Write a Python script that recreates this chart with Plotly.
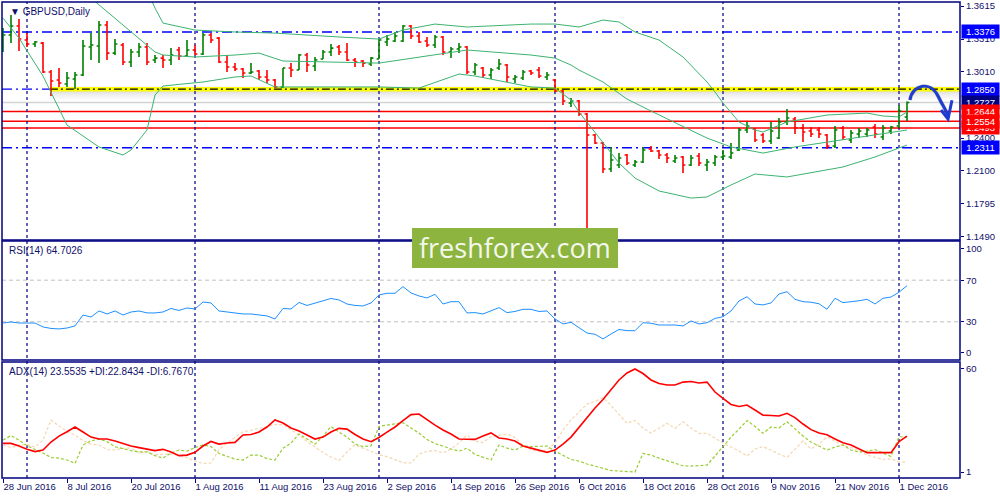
import pandas as pd
import plotly.graph_objects as go

# trading days on the chart: weekdays 28 Jun - 2 Dec 2016
trade_days = pd.bdate_range("2016-06-28", "2016-12-02")
dates = [d.strftime("%Y-%m-%d") for d in trade_days]

opens = [1.3256, 1.3348, 1.3431, 1.3302, 1.3265, 1.3274, 1.3008, 1.2934, 1.2897, 1.2943,
         1.2980, 1.3238, 1.3247, 1.3440, 1.3182, 1.3256, 1.3100, 1.3192, 1.3238, 1.3118,
         1.3136, 1.3118, 1.3210, 1.3155, 1.3210, 1.3173, 1.3348, 1.3320, 1.3100, 1.3054,
         1.3035, 1.2998, 1.3017, 1.2962, 1.2934, 1.2870, 1.3044, 1.3026, 1.3164, 1.3063,
         1.3127, 1.3192, 1.3238, 1.3192, 1.3118, 1.3109, 1.3081, 1.3127, 1.3284, 1.3293,
         1.3293, 1.3431, 1.3339, 1.3293, 1.3256, 1.3330, 1.3192, 1.3219, 1.3238, 1.3008,
         1.3044, 1.2980, 1.3044, 1.3072, 1.2943, 1.2952, 1.3017, 1.3026, 1.2962, 1.2934,
         1.2833, 1.2722, 1.2741, 1.2621, 1.2428, 1.2354, 1.2115, 1.2152, 1.2244, 1.2152,
         1.2180, 1.2299, 1.2281, 1.2244, 1.2189, 1.2226, 1.2152, 1.2235, 1.2152, 1.2170,
         1.2226, 1.2226, 1.2290, 1.2474, 1.2483, 1.2428, 1.2373, 1.2400, 1.2548, 1.2575,
         1.2492, 1.2465, 1.2474, 1.2428, 1.2327, 1.2492, 1.2382, 1.2437, 1.2437, 1.2502,
         1.2410, 1.2465, 1.2511, 1.2594]
highs = [1.3412, 1.3532, 1.3495, 1.3366, 1.3293, 1.3284, 1.3026, 1.3044, 1.3008, 1.3008,
         1.3302, 1.3366, 1.3477, 1.3477, 1.3311, 1.3274, 1.3219, 1.3274, 1.3274, 1.3164,
         1.3164, 1.3228, 1.3238, 1.3302, 1.3256, 1.3366, 1.3366, 1.3330, 1.3164, 1.3090,
         1.3044, 1.3090, 1.3026, 1.3026, 1.2943, 1.3044, 1.3090, 1.3173, 1.3182, 1.3146,
         1.3210, 1.3265, 1.3256, 1.3274, 1.3136, 1.3118, 1.3146, 1.3311, 1.3348, 1.3376,
         1.3440, 1.3440, 1.3376, 1.3330, 1.3348, 1.3339, 1.3238, 1.3274, 1.3247, 1.3090,
         1.3054, 1.3044, 1.3127, 1.3081, 1.2980, 1.3026, 1.3026, 1.3054, 1.3008, 1.2943,
         1.2842, 1.2768, 1.2750, 1.2630, 1.2437, 1.2364, 1.2318, 1.2262, 1.2253, 1.2198,
         1.2318, 1.2327, 1.2290, 1.2262, 1.2244, 1.2235, 1.2244, 1.2262, 1.2207, 1.2244,
         1.2290, 1.2354, 1.2492, 1.2548, 1.2492, 1.2446, 1.2548, 1.2584, 1.2667, 1.2594,
         1.2529, 1.2502, 1.2502, 1.2437, 1.2511, 1.2511, 1.2474, 1.2492, 1.2492, 1.2529,
         1.2520, 1.2511, 1.2704, 1.2736]
lows = [1.3192, 1.3274, 1.3201, 1.3238, 1.3238, 1.2998, 1.2787, 1.2870, 1.2870, 1.2851,
        1.2971, 1.3118, 1.3090, 1.3118, 1.3164, 1.3072, 1.3054, 1.3146, 1.3072, 1.3090,
        1.3044, 1.3072, 1.3118, 1.3146, 1.3164, 1.3164, 1.3274, 1.3090, 1.3008, 1.3017,
        1.2952, 1.2989, 1.2934, 1.2906, 1.2860, 1.2860, 1.2962, 1.3026, 1.3008, 1.3017,
        1.3127, 1.3155, 1.3164, 1.3109, 1.3054, 1.3054, 1.3063, 1.3127, 1.3247, 1.3284,
        1.3284, 1.3311, 1.3274, 1.3238, 1.3228, 1.3164, 1.3136, 1.3182, 1.2989, 1.2980,
        1.2952, 1.2943, 1.3026, 1.2916, 1.2906, 1.2934, 1.2980, 1.2952, 1.2934, 1.2824,
        1.2704, 1.2686, 1.2603, 1.1491, 1.2345, 1.2078, 1.2088, 1.2124, 1.2152, 1.2134,
        1.2170, 1.2272, 1.2207, 1.2170, 1.2170, 1.2078, 1.2143, 1.2143, 1.2097, 1.2143,
        1.2198, 1.2207, 1.2281, 1.2446, 1.2364, 1.2354, 1.2345, 1.2391, 1.2520, 1.2437,
        1.2364, 1.2410, 1.2400, 1.2299, 1.2308, 1.2382, 1.2354, 1.2400, 1.2410, 1.2400,
        1.2382, 1.2437, 1.2492, 1.2557]
closes = [1.3348, 1.3431, 1.3311, 1.3265, 1.3284, 1.3008, 1.2925, 1.2906, 1.2952, 1.2980,
          1.3247, 1.3256, 1.3440, 1.3182, 1.3265, 1.3100, 1.3192, 1.3238, 1.3100, 1.3136,
          1.3118, 1.3164, 1.3155, 1.3210, 1.3173, 1.3348, 1.3302, 1.3100, 1.3054, 1.3035,
          1.2998, 1.3008, 1.2962, 1.2934, 1.2870, 1.3044, 1.3026, 1.3164, 1.3072, 1.3118,
          1.3192, 1.3228, 1.3192, 1.3118, 1.3100, 1.3090, 1.3136, 1.3302, 1.3311, 1.3339,
          1.3431, 1.3339, 1.3284, 1.3256, 1.3330, 1.3192, 1.3219, 1.3238, 1.3008, 1.3072,
          1.2980, 1.3026, 1.3081, 1.2962, 1.2962, 1.3008, 1.2998, 1.2971, 1.2980, 1.2833,
          1.2741, 1.2741, 1.2621, 1.2428, 1.2354, 1.2115, 1.2198, 1.2216, 1.2170, 1.2180,
          1.2290, 1.2281, 1.2244, 1.2216, 1.2216, 1.2152, 1.2216, 1.2170, 1.2180, 1.2226,
          1.2235, 1.2262, 1.2474, 1.2511, 1.2382, 1.2373, 1.2465, 1.2548, 1.2584, 1.2492,
          1.2456, 1.2437, 1.2437, 1.2327, 1.2474, 1.2410, 1.2446, 1.2465, 1.2474, 1.2437,
          1.2492, 1.2502, 1.2649, 1.2727]

# Bollinger bands at some bars (bar number -> price)
bb_upper_bar = [18, 19, 20, 24, 29, 34, 42, 47, 50, 54, 58, 66, 69, 72, 75, 77, 79, 82, 85, 87,
                88, 89, 90, 92, 94, 95, 98, 103, 108, 110, 112, 113]
bb_upper = [1.3762, 1.3596, 1.3458, 1.3394, 1.3376, 1.3366, 1.3330, 1.3311, 1.3394, 1.3449,
            1.3422, 1.3449, 1.3449, 1.3422, 1.3486, 1.3468, 1.3376, 1.3302, 1.3146, 1.2989,
            1.2916, 1.2824, 1.2722, 1.2548, 1.2474, 1.2456, 1.2548, 1.2612, 1.2630, 1.2603,
            1.2594, 1.2640]
bb_mid_bar = [11, 12, 15, 19, 20, 24, 29, 32, 35, 47, 54, 58, 66, 69, 71, 72, 75, 78, 81, 85,
              88, 91, 95, 99, 105, 109, 113]
bb_mid = [1.3688, 1.3624, 1.3440, 1.3192, 1.3164, 1.3146, 1.3164, 1.3182, 1.3109, 1.3090,
          1.3164, 1.3210, 1.3164, 1.3136, 1.3072, 1.3026, 1.2916, 1.2759, 1.2649, 1.2511,
          1.2400, 1.2318, 1.2262, 1.2318, 1.2382, 1.2428, 1.2474]
bb_lower_bar = [0, 2, 5, 8, 10, 12, 15, 16, 18, 19, 20, 25, 29, 31, 34, 47, 52, 55, 57, 59,
                66, 69, 71, 72, 75, 77, 79, 82, 86, 88, 91, 94, 98, 105, 109, 112, 113]
bb_lower = [1.3504, 1.3320, 1.2971, 1.2520, 1.2419, 1.2318, 1.2244, 1.2290, 1.2474, 1.2796,
            1.2879, 1.2916, 1.2962, 1.2971, 1.2870, 1.2870, 1.2860, 1.2934, 1.2989, 1.2971,
            1.2870, 1.2860, 1.2750, 1.2640, 1.2364, 1.2170, 1.2032, 1.1913, 1.1848, 1.1858,
            1.1968, 1.2069, 1.2042, 1.2134, 1.2226, 1.2308, 1.2336]

rsi = [28.8, 29.8, 28.8, 28.8, 28.8, 25.0, 23.6, 23.1, 24.0, 26.0,
       36.5, 34.6, 40.4, 37.5, 40.4, 36.5, 39.4, 40.4, 38.5, 38.5,
       39.4, 42.8, 40.9, 43.3, 42.3, 49.0, 48.1, 40.4, 39.4, 38.5,
       37.5, 37.5, 36.5, 35.6, 32.7, 42.8, 42.3, 48.6, 45.7, 48.1,
       50.5, 52.4, 51.0, 47.1, 45.7, 45.2, 48.1, 55.8, 57.4, 57.4,
       63.8, 57.7, 54.8, 52.9, 56.4, 47.1, 49.3, 49.3, 38.5, 38.8,
       37.5, 40.4, 43.6, 38.8, 39.9, 42.0, 42.0, 39.9, 40.4, 32.7,
       27.9, 29.5, 24.0, 19.2, 18.0, 13.5, 18.3, 22.6, 21.5, 21.4,
       29.1, 28.6, 26.9, 26.9, 26.9, 26.0, 30.8, 27.9, 29.1, 33.2,
       34.9, 40.4, 50.0, 54.1, 47.1, 46.2, 48.1, 56.7, 58.9, 51.6,
       49.3, 48.8, 47.3, 42.0, 52.6, 48.4, 49.0, 50.2, 51.6, 47.1,
       52.6, 53.8, 58.4, 64.7]

adx = [17.4, 17.4, 15.9, 14.0, 12.7, 13.6, 18.2, 21.6, 24.1, 26.8,
       23.9, 21.0, 19.9, 19.9, 18.8, 17.3, 15.9, 15.0, 14.2, 13.3,
       14.0, 12.5, 10.4, 10.7, 12.3, 15.9, 18.5, 17.0, 17.6, 18.0,
       22.2, 22.5, 23.9, 26.8, 30.8, 29.1, 26.2, 24.5, 22.2, 19.9,
       21.0, 23.9, 26.0, 25.6, 22.5, 19.9, 18.4, 20.8, 23.9, 26.8,
       30.5, 33.9, 34.2, 30.8, 27.9, 25.1, 22.8, 19.9, 19.7, 19.7,
       21.6, 23.4, 20.5, 19.9, 18.8, 15.9, 14.7, 13.6, 12.3, 13.6,
       17.0, 21.0, 26.5, 31.9, 37.7, 42.5, 48.0, 53.7, 57.7, 60.0,
       57.4, 53.7, 51.7, 50.8, 50.8, 52.5, 52.8, 52.0, 52.5, 46.8,
       43.2, 39.7, 38.5, 39.4, 36.5, 33.6, 33.4, 33.1, 34.6, 32.2,
       28.5, 25.3, 23.3, 22.4, 19.9, 17.8, 16.5, 14.2, 12.1, 12.1,
       12.1, 12.1, 18.4, 21.6]
plus_di = [19.3, 21.9, 19.3, 16.1, 13.9, 11.9, 9.3, 9.0, 7.9, 6.0,
           16.5, 18.8, 19.9, 18.4, 15.5, 14.2, 13.3, 12.6, 12.6, 10.4,
           9.0, 11.9, 13.6, 13.0, 15.0, 16.5, 15.6, 11.6, 10.2, 8.4,
           7.9, 10.7, 10.7, 8.7, 7.9, 14.6, 17.6, 22.8, 19.9, 17.0,
           21.6, 27.1, 23.9, 21.0, 17.0, 15.6, 15.9, 27.1, 27.9, 28.5,
           29.2, 26.2, 23.3, 19.6, 17.3, 15.9, 14.2, 13.0, 14.7, 11.1,
           9.6, 7.9, 16.5, 14.7, 13.6, 15.9, 15.6, 15.6, 15.9, 13.0,
           10.7, 8.2, 7.3, 5.6, 4.4, 3.0, 1.9, 1.6, 1.2, 1.0,
           11.7, 10.7, 9.0, 7.5, 5.9, 4.6, 4.4, 4.7, 5.0, 10.2,
           15.5, 21.0, 25.6, 30.5, 27.1, 23.2, 26.8, 26.2, 29.8, 25.6,
           21.6, 18.2, 15.9, 13.6, 15.3, 16.5, 13.6, 12.5, 13.0, 13.9,
           11.9, 9.9, 21.2, 21.2]
minus_di = [16.5, 15.0, 16.5, 16.7, 15.3, 19.3, 30.8, 27.6, 24.1, 22.2,
            19.0, 17.0, 16.5, 13.9, 13.6, 14.6, 14.7, 11.9, 12.6, 11.0,
            11.3, 11.4, 10.6, 9.3, 7.3, 5.9, 6.2, 13.9, 17.6, 21.0,
            24.1, 24.9, 25.9, 26.9, 28.2, 28.2, 25.1, 22.2, 18.5, 15.3,
            12.2, 9.6, 7.6, 12.5, 16.7, 14.7, 12.7, 11.0, 9.8, 8.2,
            6.4, 6.2, 11.3, 12.9, 13.3, 12.0, 14.2, 17.6, 22.2, 18.8,
            17.9, 21.3, 22.0, 22.8, 20.8, 16.5, 13.6, 12.7, 13.6, 17.6,
            25.1, 30.8, 35.4, 39.9, 41.4, 43.7, 39.1, 34.2, 28.9, 30.6,
            26.2, 23.3, 26.2, 28.9, 26.0, 29.8, 26.2, 23.2, 23.2, 20.2,
            17.6, 15.3, 13.0, 10.2, 14.2, 15.6, 13.3, 11.3, 9.4, 14.2,
            18.8, 14.2, 17.0, 21.2, 18.5, 16.2, 15.0, 13.3, 10.7, 9.6,
            8.2, 8.6, 6.7, 6.7]

price_ticks = [1.3615, 1.3310, 1.3010, 1.2400, 1.2100, 1.1795, 1.1490]
rsi_ticks = [0, 30, 70, 100]
rsi_levels = [30, 70]
adx_ticks = [1, 60]

blue_levels = [1.3376, 1.2311]
key_level = 1.2850
red_levels = [1.2644, 1.2554, 1.2493]
last_price = 1.2727

month_starts = ["2016-07-01", "2016-08-01", "2016-09-01", "2016-10-03", "2016-11-01", "2016-12-01"]

# price boxes on the right scale, in drawing order
price_boxes = [(1.3376, "#0000FF"), (1.2850, "#0000FF"), (last_price, "#000080"),
               (1.2644, "#FF0000"), (1.2493, "#FF0000"), (1.2554, "#FF0000"), (1.2311, "#0000FF")]

#######################
### Graph Variables ###
#######################

MARGIN = dict(l=2, r=40, t=2, b=22)
NAVY = "#000080"
TEXT_COLOUR = "#10106a"
FONT = "Liberation Sans"
FONT_SIZE = 9
BAND_COLOUR = "#3CB371"
MAIN_DOMAIN = [0.5, 1.0]
RSI_DOMAIN = [0.248, 0.498]
ADX_DOMAIN = [0.0, 0.2437]
DASHDOT = "10px,4px,2px,4px"

fig = go.Figure()

fig.add_trace(go.Ohlc(x=dates, open=opens, high=highs, low=lows, close=closes,
                      increasing=dict(line=dict(color="#008000", width=1.6)),
                      decreasing=dict(line=dict(color="#FF0000", width=1.6)),
                      tickwidth=0.3, xaxis="x", yaxis="y"))

for bars, vals in [(bb_upper_bar, bb_upper), (bb_mid_bar, bb_mid), (bb_lower_bar, bb_lower)]:
    fig.add_trace(go.Scatter(x=[dates[i] for i in bars], y=vals, mode="lines",
                             line=dict(color=BAND_COLOUR, width=1), yaxis="y"))

fig.add_trace(go.Scatter(x=dates, y=rsi, mode="lines", line=dict(color="#1E90FF", width=1), yaxis="y2"))

fig.add_trace(go.Scatter(x=dates, y=minus_di, mode="lines",
                         line=dict(color="#F5D7B0", width=1.2, dash="3px,2px"), yaxis="y3"))
fig.add_trace(go.Scatter(x=dates, y=plus_di, mode="lines",
                         line=dict(color="#9ACD32", width=1.2, dash="3px,2px"), yaxis="y3"))
fig.add_trace(go.Scatter(x=dates, y=adx, mode="lines", line=dict(color="#FF0000", width=1.6), yaxis="y3"))

shapes = []

# horizontal levels on the price panel
for lvl in blue_levels:
    shapes.append(dict(type="line", xref="paper", yref="y", x0=0, x1=1, y0=lvl, y1=lvl,
                       line=dict(color="#0000FF", width=1.3, dash=DASHDOT), layer="below"))
shapes.append(dict(type="line", xref="paper", yref="y", x0=0, x1=0.05, y0=key_level, y1=key_level,
                   line=dict(color="#0000FF", width=1.3, dash=DASHDOT), layer="below"))
for k, op in enumerate([0.22, 0.16, 0.11, 0.07, 0.04]):
    shapes.append(dict(type="rect", xref="paper", yref="y", x0=0.05, x1=1,
                       y0=key_level - 0.0005 - 0.0018 * k, y1=key_level - 0.0023 - 0.0018 * k,
                       fillcolor="rgba(90,90,90,%.2f)" % op, line=dict(width=0), layer="below"))
shapes.append(dict(type="rect", xref="paper", yref="y", x0=0.05, x1=1,
                   y0=key_level + 0.0005, y1=key_level + 0.0030,
                   fillcolor="rgba(90,90,90,0.06)", line=dict(width=0), layer="below"))
shapes.append(dict(type="line", xref="paper", yref="y", x0=0.05, x1=1, y0=key_level, y1=key_level,
                   line=dict(color="#FFFF00", width=4.5), layer="below"))
shapes.append(dict(type="line", xref="paper", yref="y", x0=0.05, x1=1, y0=key_level, y1=key_level,
                   line=dict(color="#000000", width=1.2, dash="8px,3px,2px,3px"), layer="below"))
shapes.append(dict(type="line", xref="paper", yref="y", x0=0, x1=1, y0=last_price, y1=last_price,
                   line=dict(color="#D3D3D3", width=1.5), layer="below"))
for lvl in red_levels:
    shapes.append(dict(type="line", xref="paper", yref="y", x0=0, x1=1, y0=lvl, y1=lvl,
                       line=dict(color="#FF0000", width=1.5), layer="below"))

# RSI levels
for lvl in rsi_levels:
    shapes.append(dict(type="line", xref="paper", yref="y2", x0=0, x1=1, y0=lvl, y1=lvl,
                       line=dict(color="#C0C0C0", width=1, dash="4px,3px"), layer="below"))

# month separators
for d in month_starts:
    shapes.append(dict(type="line", xref="x", yref="paper", x0=d, x1=d, y0=0, y1=1,
                       line=dict(color=NAVY, width=1.2, dash="3px,3px"), layer="below"))

# panel frames
for ax in ["y", "y2", "y3"]:
    shapes.append(dict(type="rect", xref="paper", yref=ax + " domain", x0=0, x1=1, y0=0, y1=1,
                       line=dict(color=NAVY, width=1.5)))

# hand drawn arrow
arrow = ("M 0.9478,0.7941 C 0.9499,0.8256 0.9687,0.8361 0.9770,0.8025 "
         "S 0.9875,0.7689 0.9875,0.7563")
head = "M 0.9802,0.7731 L 0.9875,0.7542 L 0.9916,0.7937"
for path, col, w in [(arrow, "rgba(0,0,0,0.18)", 4), (arrow, "#1E3CD0", 3), (head, "#1E3CD0", 3)]:
    shapes.append(dict(type="path", xref="paper", yref="paper", path=path,
                       line=dict(color=col, width=w)))

# watermark
shapes.append(dict(type="rect", xref="paper", yref="paper", x0=0.428, x1=0.643, y0=0.441, y1=0.525,
                   fillcolor="#8DB43F", line=dict(width=0)))

annotations = [
    dict(text="▼ GBPUSD,Daily", xref="paper", yref="paper", x=0.006, y=0.981, xanchor="left",
         yanchor="middle", showarrow=False, font=dict(family=FONT, size=FONT_SIZE + 1, color=TEXT_COLOUR)),
    dict(text="RSI(14) 64.7026", xref="paper", yref="paper", x=0.005, y=0.477, xanchor="left",
         yanchor="middle", showarrow=False, font=dict(family=FONT, size=FONT_SIZE + 1, color=TEXT_COLOUR)),
    dict(text="ADX(14) 23.5535 +DI:22.8434 -DI:6.7670", xref="paper", yref="paper", x=0.005, y=0.2227,
         xanchor="left", yanchor="middle", showarrow=False,
         font=dict(family=FONT, size=FONT_SIZE + 1, color=TEXT_COLOUR)),
    dict(text="freshforex.com", xref="paper", yref="paper", x=0.5355, y=0.4832, xanchor="center",
         yanchor="middle", showarrow=False, font=dict(family="Open Sans", size=27, color="#F4F8EC")),
]
for val, bg in price_boxes:
    annotations.append(dict(text="%.4f" % val, xref="paper", yref="y", x=1, y=val, xanchor="left",
                            yanchor="middle", xshift=1, showarrow=False, bgcolor=bg, borderpad=1,
                            width=35, font=dict(family=FONT, size=FONT_SIZE + 0.5, color="white")))

axis_font = dict(family=FONT, size=FONT_SIZE + 0.5, color=TEXT_COLOUR)
yaxis_common = dict(side="right", anchor="x", showgrid=False, zeroline=False, ticks="outside",
                    ticklen=3, tickcolor=NAVY, tickfont=axis_font, automargin=False, fixedrange=True)

fig.update_layout(
    width=1000, height=500, margin=MARGIN, showlegend=False,
    plot_bgcolor="white", paper_bgcolor="white", hovermode=False,
    xaxis=dict(type="category", categoryorder="array", categoryarray=dates,
               range=[-0.125, 119.625], anchor="y3", showgrid=False, zeroline=False,
               rangeslider=dict(visible=False), tickvals=dates[::8],
               ticktext=["%d %s" % (d.day, d.strftime("%b %Y")) for d in trade_days[::8]],
               ticks="outside", ticklen=4, tickcolor=NAVY, tickfont=axis_font,
               ticklabelposition="outside right", tickangle=0, automargin=False),
    yaxis=dict(domain=MAIN_DOMAIN, range=[1.1462, 1.3652], tickvals=price_ticks,
               ticktext=["%.4f" % v for v in price_ticks], **yaxis_common),
    yaxis2=dict(domain=RSI_DOMAIN, range=[-6.7, 107.7], tickvals=rsi_ticks,
                ticktext=[str(v) for v in rsi_ticks], **yaxis_common),
    yaxis3=dict(domain=ADX_DOMAIN, range=[-2.4, 64.0], tickvals=adx_ticks,
                ticktext=[str(v) for v in adx_ticks], **yaxis_common),
    shapes=shapes, annotations=annotations,
)

# the page's default body margin would push the 1000x500 figure out of the window
fig.write_html("out.html", config={"displayModeBar": False},
               post_script="document.body.style.margin='0px';")
